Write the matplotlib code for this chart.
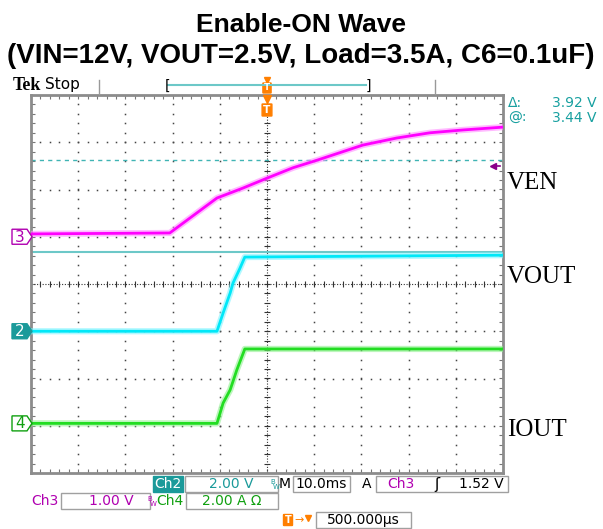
import numpy as np
import matplotlib; matplotlib.use("Agg")
import matplotlib.pyplot as plt
from matplotlib.patches import Rectangle, FancyBboxPatch, Polygon

# ---- scope traces (time in ms, 10 ms/div) ----
t_ven  = [-50, -20.6, -10.6, -5.1, 0.0, 5.5, 10.6, 20.3, 27.5, 34.5, 41.5, 50]
v_ven  = [0.06, 0.08, 0.82, 1.03, 1.24, 1.46, 1.62, 1.94, 2.09, 2.20, 2.26, 2.32]
t_vout = [-50, -10.6, -9.3, -7.8, -7.2, -5.7, -4.7, 50]
v_vout = [0.0, 0.0, 0.77, 1.62, 2.04, 2.68, 3.14, 3.22]
t_iout = [-50, -10.6, -9.3, -7.8, -6.4, -4.7, 50]
i_iout = [0.0, 0.0, 0.86, 1.42, 2.26, 3.15, 3.15]

# channel settings: (units/div, ground position in div)
ch3 = (1.0, 1.0)     # VEN
ch2 = (2.0, -1.0)    # VOUT
ch4 = (2.0, -2.95)   # IOUT
cursor_a, cursor_b = 0.68, 2.63   # cursor lines, div

W, H = 603, 529
fig = plt.figure(figsize=(W/100, H/100), dpi=100)

# graticule area in pixels
gl, gt, gr, gb = 31, 95, 503, 473
ax = fig.add_axes([gl/W, 1-gb/H, (gr-gl)/W, (gb-gt)/H], zorder=1)
ax.set_xlim(-50, 50); ax.set_ylim(-4, 4)
for s in ax.spines.values():
    s.set_color("#8c8c8c"); s.set_linewidth(2)
ax.set_xticks(np.arange(-50, 51, 2)); ax.set_yticks(np.arange(-4, 4.01, 0.2))
ax.tick_params(direction="in", length=3, width=0.8, color="#777", top=True, right=True,
               labelbottom=False, labelleft=False)

# dotted grid
ys = np.arange(-4, 4.01, 0.2); xs = np.arange(-50, 51, 2)
for gx in [-40, -30, -20, -10, 10, 20, 30, 40]:
    ax.plot(np.full_like(ys, gx), ys, "s", ms=1.1, mew=0, color="#444")
for gy in [-3, -2, -1, 1, 2, 3]:
    ax.plot(xs, np.full_like(xs, gy, dtype=float), "s", ms=1.1, mew=0, color="#444")
ax.plot([-50, 50], [0, 0], ls=(0, (1, 1.5)), lw=0.8, color="#333")
ax.plot([0, 0], [-4, 4], ls=(0, (1, 1.5)), lw=0.8, color="#333")
ax.vlines(xs, -0.07, 0.07, color="#333", lw=0.8)
ax.hlines(ys, -0.7, 0.7, color="#333", lw=0.8)

# cursors
ax.axhline(cursor_a, color="#6cc8c8", lw=1.5, zorder=2)
ax.axhline(cursor_b, color="#40b4b4", lw=1.0, ls=(0, (3, 3)), zorder=2)

def trace(t, v, ch, col, light):
    y = ch[1] + np.array(v) / ch[0]
    ax.plot(t, y, color=light, lw=4.5, alpha=0.6, zorder=3, solid_capstyle="butt")
    ax.plot(t, y, color=col, lw=2.0, zorder=4, solid_capstyle="butt")

trace(t_ven, v_ven, ch3, "#ff00ff", "#ff8cff")
trace(t_vout, v_vout, ch2, "#00e8f8", "#80f4ff")
trace(t_iout, i_iout, ch4, "#22dd22", "#90f090")

# overlay for annotations in pixel coordinates
ov = fig.add_axes([0, 0, 1, 1], zorder=5)
ov.set_xlim(0, W); ov.set_ylim(H, 0); ov.axis("off"); ov.patch.set_alpha(0)

ov.text(301, 32, "Enable-ON Wave", ha="center", va="baseline", fontsize=19,
        fontweight="bold", family="Liberation Sans")
ov.text(301, 63, "(VIN=12V, VOUT=2.5V, Load=3.5A, C6=0.1uF)", ha="center", va="baseline",
        fontsize=20, fontweight="bold", family="Liberation Sans")

# top status bar
ov.text(13, 85, "Tek", fontsize=13, fontweight="bold", family="Liberation Serif", va="center")
ov.text(45, 85, "Stop", fontsize=11, family="DejaVu Sans", va="center")
for sx in [99, 435]:
    ov.plot([sx, sx], [80, 94], color="#999", lw=1)
ov.plot([168, 366], [85, 85], color="#6cc8c8", lw=1.5)
ov.text(167, 86, "[", fontsize=10, ha="center", va="center")
ov.text(368, 86, "]", fontsize=10, ha="center", va="center")

def tmark(x, y, s):
    ov.add_patch(FancyBboxPatch((x-4*s, y-5*s), 8*s, 10*s, boxstyle="round,pad=0.5",
                                fc="#ff7f00", ec="#ff7f00"))
    ov.text(x, y, "T", color="white", fontsize=7*s, fontweight="bold", ha="center", va="center")

tmark(267, 88, 0.9)
ov.plot(267, 80, "v", ms=5, color="#ff7f00")
tmark(267, 110, 1.1)
ov.plot(267, 99, "v", ms=6, color="#ff7f00")

# channel ground markers
def chmark(y, label, col, filled):
    fc = col if filled else "white"
    tc = "white" if filled else col
    ov.add_patch(Polygon([(12, y-7.5), (27, y-7.5), (32, y), (27, y+7.5), (12, y+7.5)],
                         closed=True, fc=fc, ec=col, lw=1))
    ov.text(20, y+0.5, label, color=tc, fontsize=11, ha="center", va="center")

def ypx(div):
    return 284 - div * 47.25

chmark(ypx(ch3[1]), "3", "#b000b0", False)
chmark(ypx(ch2[1]), "2", "#1b9a9a", True)
chmark(ypx(ch4[1]), "4", "#10a010", False)

# trigger level arrow
ov.plot([493, 500], [166, 166], color="#8a008a", lw=1.2)
ov.plot(493, 166, "<", ms=4, color="#8a008a")

# cursor readout
ov.text(508, 103, "\u0394:", color="#18a0a0", fontsize=10, va="center")
ov.text(597, 103, "3.92 V", color="#18a0a0", fontsize=10, va="center", ha="right")
ov.text(508, 118, "@:", color="#18a0a0", fontsize=10, va="center")
ov.text(597, 118, "3.44 V", color="#18a0a0", fontsize=10, va="center", ha="right")

# trace labels
for lab, y in [("VEN", 183), ("VOUT", 277), ("IOUT", 430)]:
    ov.text(507, y, lab, fontsize=18, family="Liberation Serif", va="center")

# bottom readouts
def box(x0, x1, y):
    ov.add_patch(Rectangle((x0, y-8), x1-x0, 16, fc="none", ec="#a0a0a0", lw=1))

teal, purple, green = "#1b9a9a", "#b000b0", "#10a010"
r1, r2, r3 = 484, 501, 520
ov.add_patch(Rectangle((153, r1-8), 30, 16, fc=teal, ec=teal))
ov.text(168, r1, "Ch2", color="white", fontsize=10, ha="center", va="center")
box(185, 278, r1)
ov.text(231, r1, "2.00 V", color=teal, fontsize=10, ha="center", va="center")
ov.text(273, r1-2, "B", color=teal, fontsize=5, ha="center", va="center")
ov.text(276, r1+3, "W", color=teal, fontsize=5, ha="center", va="center")
ov.text(285, r1, "M", fontsize=10, ha="center", va="center")
box(293, 350, r1)
ov.text(321, r1, "10.0ms", fontsize=10, ha="center", va="center")
ov.text(367, r1, "A", fontsize=10, ha="center", va="center")
box(376, 508, r1)
ov.text(401, r1, "Ch3", color=purple, fontsize=10, ha="center", va="center")
ov.text(437, r1, "\u0283", fontsize=11, ha="center", va="center")
ov.text(504, r1, "1.52 V", fontsize=10, ha="right", va="center")

ov.text(31, r2, "Ch3", color=purple, fontsize=10, va="center")
box(61, 150, r2)
ov.text(111, r2, "1.00 V", color=purple, fontsize=10, ha="center", va="center")
ov.text(150, r2-2, "B", color=purple, fontsize=5, ha="center", va="center")
ov.text(153, r2+3, "W", color=purple, fontsize=5, ha="center", va="center")
ov.text(170, r2, "Ch4", color=green, fontsize=10, ha="center", va="center")
box(186, 278, r2)
ov.text(232, r2, "2.00 A \u03a9", color=green, fontsize=10, ha="center", va="center")

ov.add_patch(FancyBboxPatch((284, r3-5), 8, 10, boxstyle="round,pad=0.5", fc="#ff7f00", ec="#ff7f00"))
ov.text(288, r3, "T", color="white", fontsize=7, fontweight="bold", ha="center", va="center")
ov.text(299, r3, "\u2192", color="#ff7f00", fontsize=8, ha="center", va="center")
ov.plot(308, r3-2, "v", ms=5, color="#ff7f00")
box(316, 411, r3)
ov.text(363, r3, "500.000\u00b5s", fontsize=10, ha="center", va="center")

fig.savefig("out.png", dpi=100)
